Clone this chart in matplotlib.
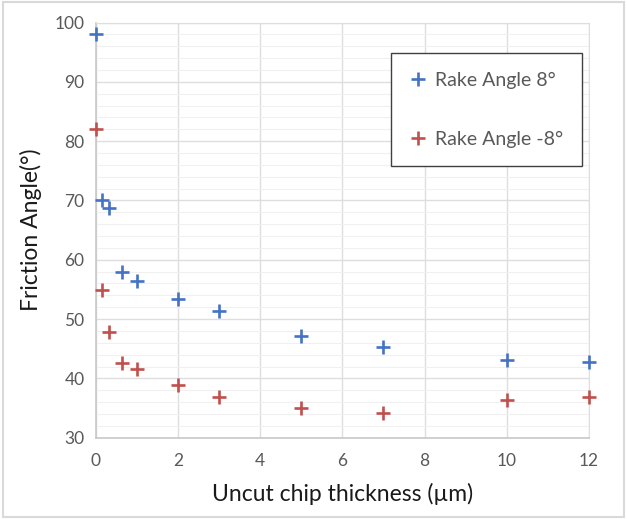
import numpy as np
import matplotlib.pyplot as plt
from matplotlib.patches import Rectangle

# values
thick_pos = [0.0, 0.15, 0.33, 0.65, 1.0, 2.0, 3.0, 5.0, 7.0, 10.0, 12.0]
angle_pos = [98.0, 70.0, 68.8, 57.9, 56.5, 53.3, 51.4, 47.2, 45.3, 43.1, 42.7]
thick_neg = [0.0, 0.15, 0.33, 0.65, 1.0, 2.0, 3.0, 5.0, 7.0, 10.0, 12.0]
angle_neg = [82.0, 54.9, 47.9, 42.6, 41.6, 38.9, 36.8, 35.0, 34.2, 36.4, 36.9]

labels = ["Rake Angle 8°", "Rake Angle -8°"]
colors = ["#4472C4", "#C0504D"]

plt.rcParams['font.family'] = ['Lato', 'DejaVu Sans']

fig = plt.figure(figsize=(6.27, 5.19), dpi=100)
ax = fig.add_axes([95.7 / 627, 1 - 437.7 / 519, (589 - 95.7) / 627, (437.7 - 22.5) / 519])

# light frame round the whole picture
fig.patches.append(Rectangle((0.004, 0.004), 0.992, 0.992, transform=fig.transFigure,
                             fill=False, edgecolor="#d9d9d9", linewidth=1.5))

ax.plot(thick_pos, angle_pos, linestyle="none", marker="+", markersize=10,
        markeredgewidth=1.9, color=colors[0], label=labels[0], clip_on=False, zorder=5)
ax.plot(thick_neg, angle_neg, linestyle="none", marker="+", markersize=10,
        markeredgewidth=1.9, color=colors[1], label=labels[1], clip_on=False, zorder=5)

ax.set_xlim(0, 12)
ax.set_ylim(30, 100)
ax.set_xticks(np.arange(0, 13, 2))
ax.set_yticks(np.arange(30, 101, 10))
ax.set_yticks(np.arange(30, 101, 2), minor=True)
ax.grid(which="major", color="#dedede", linewidth=1.0)
ax.grid(which="minor", axis="y", color="#f0f0f0", linewidth=0.8)
ax.set_axisbelow(True)

for side in ["top", "right"]:
    ax.spines[side].set_color("#dedede")
for side in ["left", "bottom"]:
    ax.spines[side].set_color("#c8c8c8")
    ax.spines[side].set_linewidth(1.2)

ax.tick_params(which="both", length=0, labelsize=12.5, labelcolor="#595959")
ax.tick_params(axis="x", pad=11)
ax.tick_params(axis="y", pad=8)

ax.set_xlabel("Uncut chip thickness (µm)", fontsize=16.5, color="#1a1a1a", labelpad=10)
ax.set_ylabel("Friction Angle(°)", fontsize=16.5, color="#1a1a1a", labelpad=9)

leg = ax.legend(loc="upper left", bbox_to_anchor=(390.7 / 627, 1 - 53.3 / 519),
                bbox_transform=fig.transFigure, fontsize=14, frameon=True,
                fancybox=False, edgecolor="#404040", framealpha=1,
                labelspacing=2.15, borderpad=0.95, handlelength=0.9,
                handletextpad=0.45, borderaxespad=0)
leg.get_frame().set_linewidth(1.0)
for t in leg.get_texts():
    t.set_color("#595959")

fig.savefig("out.png", dpi=100)
